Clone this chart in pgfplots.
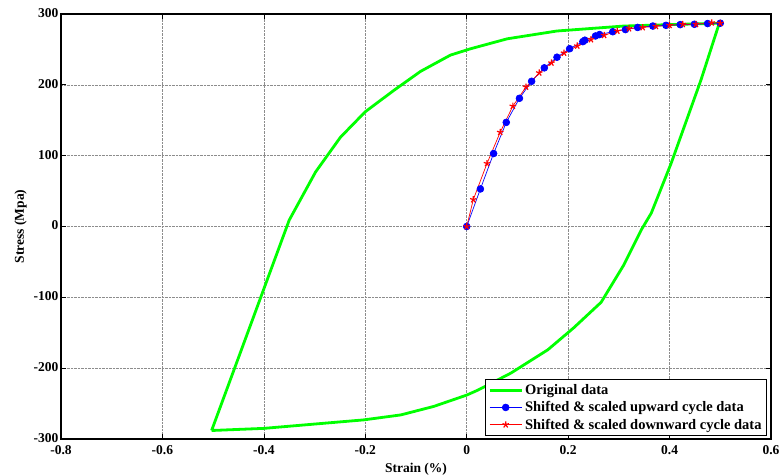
\documentclass[border=0pt]{standalone}
\usepackage{fontspec}
\setmainfont{Liberation Serif}
\usepackage{pgfplots}
\pgfplotsset{compat=1.18}
\definecolor{mgreen}{rgb}{0,1,0}
\definecolor{mblue}{rgb}{0,0,1}
\definecolor{mred}{rgb}{1,0,0}
\begin{document}
\begin{tikzpicture}
\path[use as bounding box] (-61pt,-36pt) rectangle (719pt,439pt);
\begin{axis}[
  at={(0pt,0pt)}, anchor=south west,
  scale only axis, width=710pt, height=425pt,
  xmin=-0.8, xmax=0.6, ymin=-300, ymax=300,
  xtick={-0.8,-0.6,-0.4,-0.2,0,0.2,0.4,0.6},
  ytick={-300,-200,-100,0,100,200,300},
  grid=major,
  major grid style={densely dotted, black!45, line width=0.6pt},
  tick align=inside, xtick pos=both, ytick pos=both,
  major tick length=5pt,
  tick style={black, line width=0.7pt},
  axis line style={black, line width=1.3pt},
  /pgf/number format/assume math mode=true,
  ticklabel style={font=\fontsize{13.5}{15}\selectfont\bfseries},
  xticklabel style={yshift=-2.5pt},
  yticklabel style={xshift=1pt, yshift=1pt},
  label style={font=\fontsize{13.5}{15}\selectfont\bfseries},
  xlabel={Strain (\%)},
  ylabel={Stress (Mpa)},
  xlabel style={yshift=-2pt},
  ylabel style={yshift=0pt},
  legend cell align=left,
  legend style={at={(rel axis cs:0.9944,0.007)}, anchor=south east,
    draw=black, line width=1pt, fill=white,
    font=\fontsize{14.5}{16}\selectfont\bfseries,
    row sep=1.5pt, inner xsep=3pt, inner ysep=3pt},
  legend image code/.code={\draw[mark repeat=2,mark phase=2] plot coordinates {(0pt,0pt) (16pt,0pt) (32pt,0pt)};},
]
\addplot[mgreen, line width=2.8pt, line join=round] coordinates {
(-0.503,-288) (-0.35,9) (-0.298,77) (-0.249,126) (-0.200,162) (-0.144,192)
(-0.091,219) (-0.032,242) (0.008,251) (0.08,265) (0.178,276) (0.31,283)
(0.40,285) (0.498,287) (0.462,207) (0.403,89) (0.364,19) (0.344,-5)
(0.31,-54) (0.265,-107) (0.211,-143) (0.16,-174) (0.087,-207) (0.022,-231)
(0,-238) (-0.065,-254) (-0.13,-266) (-0.203,-273) (-0.4,-285) (-0.503,-288)
};
\addlegendentry{Original data}
\addplot[mblue, line width=0.7pt, mark=*, mark size=3.4pt, mark options={fill=mblue, draw=mblue}] coordinates {
(0,0) (0.027,53) (0.053,103) (0.078,147) (0.104,181) (0.128,205) (0.153,224)
(0.178,239) (0.203,251) (0.229,261) (0.233,263) (0.254,269) (0.262,271)
(0.288,275) (0.313,278) (0.337,281) (0.367,283) (0.393,284) (0.421,285)
(0.449,285.5) (0.475,286.5) (0.5,287)
};
\addlegendentry{Shifted \& scaled upward cycle data}
\addplot[mred, line width=0.7pt, mark=star, mark size=3.4pt, mark options={line width=1.2pt}] coordinates {
(0,0) (0.013,38) (0.04,89) (0.066,133) (0.091,170) (0.117,197) (0.143,217)
(0.167,231) (0.192,245) (0.218,255) (0.245,264) (0.271,270) (0.297,276)
(0.32,279.5) (0.347,281) (0.373,282.7) (0.4,284) (0.426,285.5) (0.452,285.5)
(0.483,287.6) (0.5,287)
};
\addlegendentry{Shifted \& scaled downward cycle data}
\end{axis}
\end{tikzpicture}
\end{document}
